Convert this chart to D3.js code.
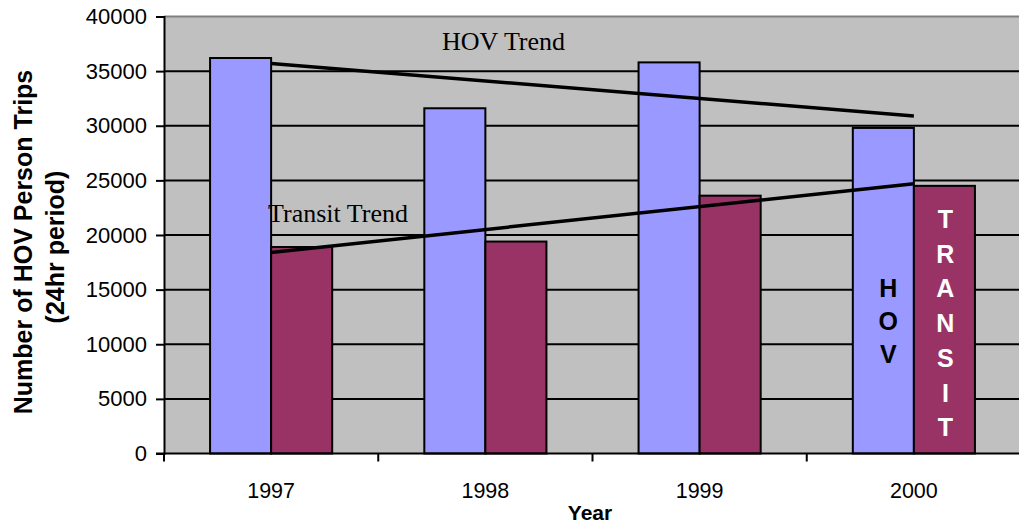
<!DOCTYPE html>
<html>
<head>
<meta charset="utf-8">
<script src="https://cdn.jsdelivr.net/npm/d3@7"></script>
<style>
  body { margin: 0; background: #fff; }
  text { font-family: "Liberation Sans", Arial, sans-serif; }
</style>
</head>
<body>
<div id="chart"></div>
<script>
// Data.
let years = ["1997", "1998", "1999", "2000"];
let hovTrips = [36200, 31600, 35800, 29800];
let transitTrips = [18900, 19400, 23600, 24500];
// Trend line end points (first and last year).
let hovTrend = [35700, 30900];
let transitTrend = [18400, 24700];
let yTicks = [0, 5000, 10000, 15000, 20000, 25000, 30000, 35000, 40000];
let hovLetters = ["H", "O", "V"];
let transitLetters = ["T", "R", "A", "N", "S", "I", "T"];

let W = 1019, H = 523;
let plot = {left: 164, right: 1021, top: 16.5, bottom: 453.5};

let svg = d3.select("#chart")
            .append("svg")
            .attr("width", W)
            .attr("height", H);

let x = d3.scaleBand()
          .domain(years)
          .range([plot.left, plot.right])
          .padding(0);

// Bars sit in the middle 57% of each category.
let series = d3.scaleBand()
               .domain(["hov", "transit"])
               .range([x.bandwidth() * 0.215, x.bandwidth() * 0.785]);

let y = d3.scaleLinear()
          .domain([0, 40000])
          .range([plot.bottom, plot.top]);

// Plot background.
svg.append("rect")
   .attr("x", plot.left)
   .attr("y", plot.top)
   .attr("width", plot.right - plot.left)
   .attr("height", plot.bottom - plot.top)
   .attr("fill", "#c0c0c0");

svg.append("line")
   .attr("x1", plot.left).attr("x2", plot.right)
   .attr("y1", plot.top).attr("y2", plot.top)
   .attr("stroke", "#808080")
   .attr("stroke-width", 2);

// Gridlines.
svg.append("g")
   .selectAll("line")
   .data(yTicks.slice(1, -1))
   .enter()
   .append("line")
   .attr("x1", plot.left)
   .attr("x2", plot.right)
   .attr("y1", d => y(d))
   .attr("y2", d => y(d))
   .attr("stroke", "#000")
   .attr("stroke-width", 2);

// Bars.
let groups = svg.append("g")
   .selectAll("g")
   .data(years)
   .enter()
   .append("g")
   .attr("transform", d => "translate(" + x(d) + ",0)");

groups.append("rect")
   .attr("x", series("hov"))
   .attr("y", (d, i) => y(hovTrips[i]))
   .attr("width", series.bandwidth())
   .attr("height", (d, i) => y(0) - y(hovTrips[i]))
   .attr("fill", "#9999ff")
   .attr("stroke", "#000")
   .attr("stroke-width", 2);

groups.append("rect")
   .attr("x", series("transit"))
   .attr("y", (d, i) => y(transitTrips[i]))
   .attr("width", series.bandwidth())
   .attr("height", (d, i) => y(0) - y(transitTrips[i]))
   .attr("fill", "#993366")
   .attr("stroke", "#000")
   .attr("stroke-width", 2);

// Trend lines, from the first to the last category centre.
let first = years[0], last = years[years.length - 1];
let trendX = [x(first) + x.bandwidth() / 2, x(last) + x.bandwidth() / 2];

[hovTrend, transitTrend].forEach(function(t) {
    svg.append("line")
       .attr("x1", trendX[0]).attr("y1", y(t[0]))
       .attr("x2", trendX[1]).attr("y2", y(t[1]))
       .attr("stroke", "#000")
       .attr("stroke-width", 3.5);
});

svg.append("text")
   .attr("x", 442).attr("y", 50)
   .style("font-family", "'Liberation Serif', 'Times New Roman', serif")
   .style("font-size", "26px")
   .text("HOV Trend");

svg.append("text")
   .attr("x", 268).attr("y", 222)
   .style("font-family", "'Liberation Serif', 'Times New Roman', serif")
   .style("font-size", "26px")
   .text("Transit Trend");

// Vertical letters inside the 2000 bars.
let lastG = x(last);
svg.append("g")
   .selectAll("text")
   .data(hovLetters)
   .enter()
   .append("text")
   .attr("x", lastG + series("hov") + series.bandwidth() / 2 + 5)
   .attr("y", (d, i) => 297 + i * 33)
   .attr("text-anchor", "middle")
   .style("font-size", "25px")
   .style("font-weight", "bold")
   .attr("fill", "#000")
   .text(d => d);

svg.append("g")
   .selectAll("text")
   .data(transitLetters)
   .enter()
   .append("text")
   .attr("x", lastG + series("transit") + series.bandwidth() / 2 + 1)
   .attr("y", (d, i) => 228 + i * 34.7)
   .attr("text-anchor", "middle")
   .style("font-size", "25px")
   .style("font-weight", "bold")
   .attr("fill", "#fff")
   .text(d => d);

// Y axis.
let yAxis = svg.append("g")
   .attr("transform", "translate(" + plot.left + ",0)")
   .call(d3.axisLeft(y).tickValues(yTicks).tickSize(8).tickPadding(9).tickFormat(d3.format("d")));
yAxis.select(".domain").attr("stroke", "#000").attr("stroke-width", 2);
yAxis.selectAll(".tick line").attr("stroke", "#000").attr("stroke-width", 2);
yAxis.selectAll(".tick text")
     .style("font-size", "22px")
     .style("font-family", "'Liberation Sans', Arial, sans-serif")
     .attr("fill", "#000");

// X axis: baseline, boundary ticks and year labels.
svg.append("line")
   .attr("x1", plot.left - 8).attr("x2", plot.right)
   .attr("y1", plot.bottom).attr("y2", plot.bottom)
   .attr("stroke", "#000")
   .attr("stroke-width", 2);

svg.append("g")
   .selectAll("line")
   .data(years)
   .enter()
   .append("line")
   .attr("x1", d => x(d)).attr("x2", d => x(d))
   .attr("y1", plot.bottom).attr("y2", plot.bottom + 8)
   .attr("stroke", "#000")
   .attr("stroke-width", 2);

let xAxis = svg.append("g")
   .attr("transform", "translate(0," + plot.bottom + ")")
   .call(d3.axisBottom(x).tickSize(0).tickPadding(29));
xAxis.select(".domain").remove();
xAxis.selectAll(".tick text")
     .style("font-size", "21.5px")
     .style("font-family", "'Liberation Sans', Arial, sans-serif")
     .attr("fill", "#000");

// Axis titles.
svg.append("text")
   .attr("x", 590).attr("y", 520)
   .attr("text-anchor", "middle")
   .style("font-size", "21px")
   .style("font-weight", "bold")
   .text("Year");

let yTitle = svg.append("text")
   .attr("transform", "translate(32,242) rotate(-90)")
   .attr("text-anchor", "middle")
   .style("font-size", "25px")
   .style("font-weight", "bold");
yTitle.append("tspan").attr("x", 0).attr("y", 0).text("Number of HOV Person Trips");
yTitle.append("tspan").attr("x", -5).attr("y", 32).text("(24hr period)");
</script>
</body>
</html>
